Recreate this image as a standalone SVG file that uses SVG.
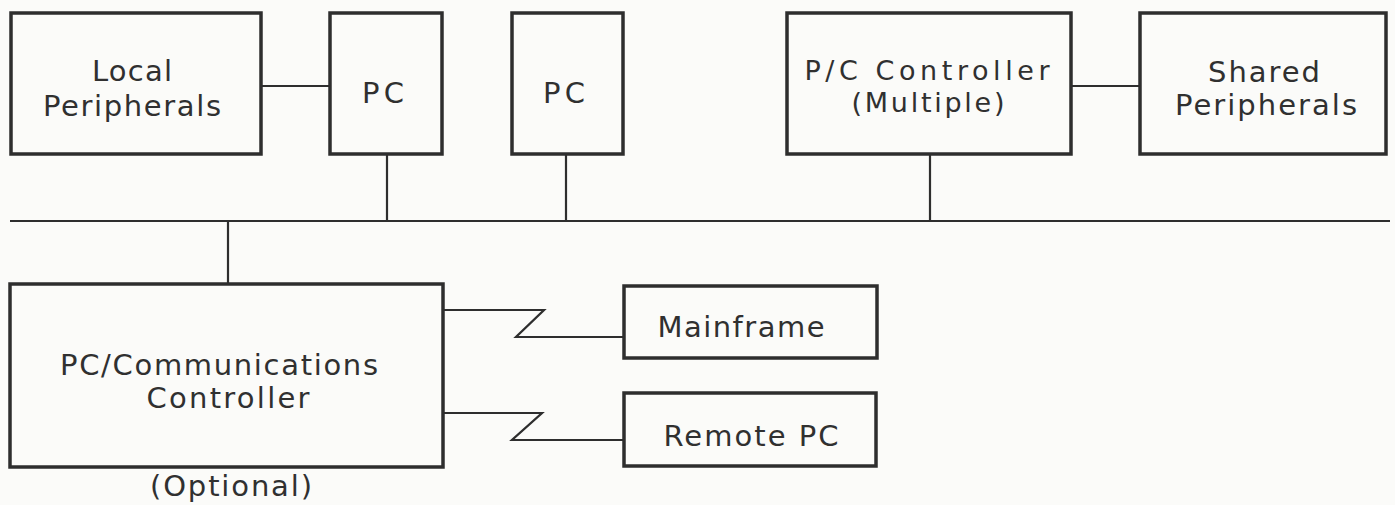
<svg xmlns="http://www.w3.org/2000/svg" width="1395" height="505" viewBox="0 0 1395 505">
  <style>
    .box { fill: none; stroke: #2e2e2e; stroke-width: 3.5; }
    .wire { fill: none; stroke: #2e2e2e; stroke-width: 2.2; }
    .lbl { font-family: "DejaVu Sans", "Liberation Sans", sans-serif; font-size: 29px; fill: #303030; text-anchor: middle; }
    .tight { font-size: 27px; }
  </style>
  <rect width="1395" height="505" fill="#fbfbf9"/>

  <g id="connectors">
    <line class="wire" x1="10" y1="221" x2="1390" y2="221"/>
    <line class="wire" x1="262" y1="86" x2="330" y2="86"/>
    <line class="wire" x1="1072" y1="86" x2="1140" y2="86"/>
    <line class="wire" x1="387" y1="154" x2="387" y2="221"/>
    <line class="wire" x1="566" y1="154" x2="566" y2="221"/>
    <line class="wire" x1="930" y1="154" x2="930" y2="221"/>
    <line class="wire" x1="228" y1="221" x2="228" y2="284"/>
    <polyline class="wire" points="443,310 544,310 516,337 624,337"/>
    <polyline class="wire" points="443,413 542,413 512,440 624,440"/>
  </g>

  <g id="local-peripherals">
    <rect class="box" x="11" y="13" width="250" height="141"/>
    <text class="lbl" x="132" y="81" textLength="80" lengthAdjust="spacing">Local</text>
    <text class="lbl" x="132" y="116" textLength="178" lengthAdjust="spacing">Peripherals</text>
  </g>

  <g id="pc-1">
    <rect class="box" x="330" y="13" width="112" height="141"/>
    <text class="lbl" x="383" y="103" textLength="42" lengthAdjust="spacing">PC</text>
  </g>

  <g id="pc-2">
    <rect class="box" x="512" y="13" width="111" height="141"/>
    <text class="lbl" x="564" y="103" textLength="42" lengthAdjust="spacing">PC</text>
  </g>

  <g id="pc-controller">
    <rect class="box" x="787" y="13" width="284" height="141"/>
    <text class="lbl tight" x="927" y="80" textLength="245" lengthAdjust="spacing">P/C Controller</text>
    <text class="lbl tight" x="928" y="112" textLength="153" lengthAdjust="spacing">(Multiple)</text>
  </g>

  <g id="shared-peripherals">
    <rect class="box" x="1140" y="13" width="246" height="141"/>
    <text class="lbl" x="1264" y="82" textLength="112" lengthAdjust="spacing">Shared</text>
    <text class="lbl" x="1266" y="115" textLength="182" lengthAdjust="spacing">Peripherals</text>
  </g>

  <g id="comm-controller">
    <rect class="box" x="10" y="284" width="433" height="183"/>
    <text class="lbl" x="219" y="375" textLength="318" lengthAdjust="spacing">PC/Communications</text>
    <text class="lbl" x="228" y="408" textLength="163" lengthAdjust="spacing">Controller</text>
    <text class="lbl" x="231" y="496" textLength="162" lengthAdjust="spacing">(Optional)</text>
  </g>

  <g id="mainframe">
    <rect class="box" x="624" y="286" width="253" height="72"/>
    <text class="lbl" x="741" y="337" textLength="167" lengthAdjust="spacing">Mainframe</text>
  </g>

  <g id="remote-pc">
    <rect class="box" x="624" y="393" width="252" height="73"/>
    <text class="lbl" x="751" y="446" textLength="175" lengthAdjust="spacing">Remote PC</text>
  </g>
</svg>
